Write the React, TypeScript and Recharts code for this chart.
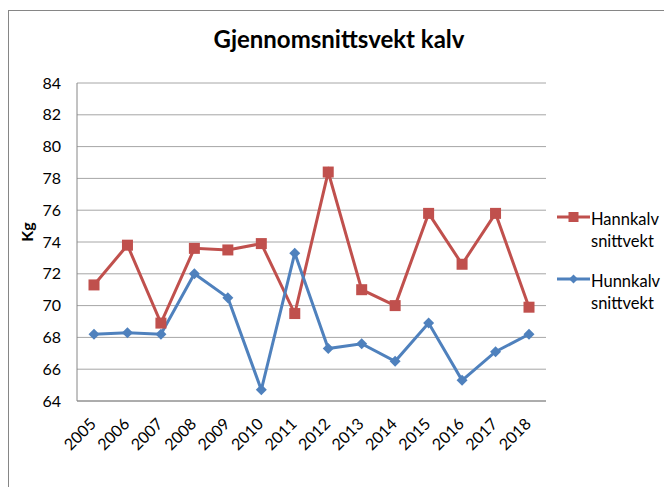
import { LineChart, Line, XAxis, YAxis, CartesianGrid } from "recharts";

const years = ["2005", "2006", "2007", "2008", "2009", "2010", "2011", "2012", "2013", "2014", "2015", "2016", "2017", "2018"];
const hannkalv = [71.3, 73.8, 68.9, 73.6, 73.5, 73.9, 69.5, 78.4, 71.0, 70.0, 75.8, 72.6, 75.8, 69.9];
const hunnkalv = [68.2, 68.3, 68.2, 72.0, 70.5, 64.7, 73.3, 67.3, 67.6, 66.5, 68.9, 65.3, 67.1, 68.2];
const yTicks = [64, 66, 68, 70, 72, 74, 76, 78, 80, 82, 84];

const RED = "#C0504D";
const BLUE = "#4F81BD";
const FONT = "Lato, 'Open Sans', sans-serif";

const data = years.map((year, i) => ({ year, hann: hannkalv[i], hunn: hunnkalv[i] }));

const SquareDot = (props: any) => {
  const { cx, cy } = props;
  if (cx == null || cy == null) return null;
  return <rect x={cx - 5.5} y={cy - 5.5} width={11} height={11} fill={RED} />;
};

const DiamondDot = (props: any) => {
  const { cx, cy } = props;
  if (cx == null || cy == null) return null;
  const r = 5.5;
  return (
    <polygon
      points={`${cx},${cy - r} ${cx + r},${cy} ${cx},${cy + r} ${cx - r},${cy}`}
      fill={BLUE}
    />
  );
};

const XTick = (props: any) => {
  const { x, y, payload } = props;
  return (
    <text
      transform={`translate(${x + 3},${y + 16}) rotate(-45)`}
      textAnchor="end"
      fontSize={16}
      fill="#000"
      fontFamily={FONT}
    >
      {payload.value}
    </text>
  );
};

// title, axis title and legend drawn on top of the chart
const Overlay = () => (
  <svg
    width={664}
    height={487}
    style={{ position: "absolute", left: 0, top: 0, pointerEvents: "none" }}
    fontFamily={FONT}
  >
    <text x={339} y={48} textAnchor="middle" fontSize={24} fontWeight={700} fill="#000">
      Gjennomsnittsvekt kalv
    </text>
    <text transform="translate(33,232) rotate(-90)" textAnchor="middle" fontSize={16} fontWeight={700} fill="#000">
      Kg
    </text>

    <line x1={557} y1={217} x2={590} y2={217} stroke={RED} strokeWidth={3} />
    <rect x={568.5} y={212} width={10} height={10} fill={RED} />
    <text x={591} y={225} fontSize={16.5} fill="#000">Hannkalv</text>
    <text x={591} y={247} fontSize={16.5} fill="#000">snittvekt</text>

    <line x1={557} y1={279} x2={590} y2={279} stroke={BLUE} strokeWidth={3} />
    <polygon points="573.5,274.5 578,279 573.5,283.5 569,279" fill={BLUE} />
    <text x={591} y={287} fontSize={16.5} fill="#000">Hunnkalv</text>
    <text x={591} y={309} fontSize={16.5} fill="#000">snittvekt</text>
  </svg>
);

export default function App() {
  return (
    <div
      style={{
        position: "absolute",
        left: 0,
        top: 0,
        width: 664,
        height: 487,
        overflow: "hidden",
        background: "#fff",
      }}
    >
      <div
        style={{
          position: "absolute",
          left: 8,
          top: 10,
          width: 700,
          height: 520,
          border: "1px solid #868686",
        }}
      />
      <LineChart
        width={664}
        height={487}
        data={data}
        margin={{ top: 83, right: 118, bottom: 26, left: 17 }}
        style={{ position: "absolute", left: 0, top: 0 }}
      >
        <CartesianGrid vertical={false} stroke="#a6a6a6" />
        <XAxis
          dataKey="year"
          padding={{ left: 17, right: 17 }}
          tickLine={false}
          axisLine={{ stroke: "#868686" }}
          tick={<XTick />}
          interval={0}
          height={60}
        />
        <YAxis
          domain={[64, 84]}
          ticks={yTicks}
          interval={0}
          width={60}
          tickLine={false}
          axisLine={{ stroke: "#868686" }}
          tickMargin={10}
          tick={{ fontSize: 16, fill: "#000", fontFamily: FONT }}
        />
        <Line
          type="linear"
          dataKey="hann"
          name="Hannkalv snittvekt"
          stroke={RED}
          strokeWidth={3}
          dot={<SquareDot />}
          isAnimationActive={false}
        />
        <Line
          type="linear"
          dataKey="hunn"
          name="Hunnkalv snittvekt"
          stroke={BLUE}
          strokeWidth={3}
          dot={<DiamondDot />}
          isAnimationActive={false}
        />
      </LineChart>
      <Overlay />
    </div>
  );
}
